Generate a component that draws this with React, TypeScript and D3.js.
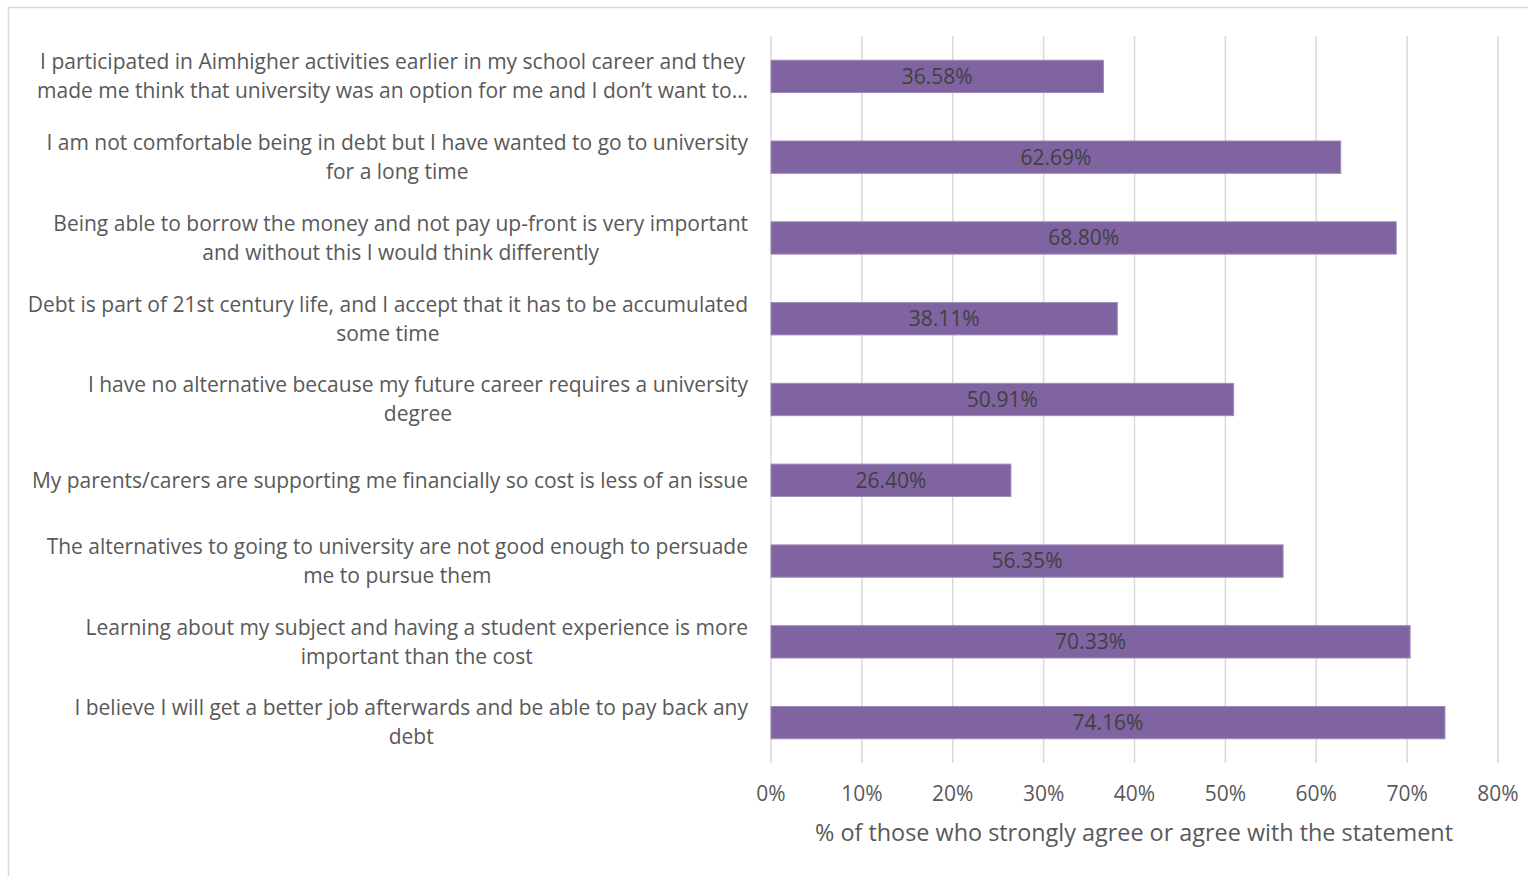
import React from "react";
import * as d3 from "d3";

const categories: string[] = [
  "I participated in Aimhigher activities earlier in my school career and they\nmade me think that university was an option for me and I don\u2019t want to\u2026",
  "I am not comfortable being in debt but I have wanted to go to university\nfor a long time",
  "Being able to borrow the money and not pay up-front is very important\nand without this I would think differently",
  "Debt is part of 21st century life, and I accept that it has to be accumulated\nsome time",
  "I have no alternative because my future career requires a university\ndegree",
  "My parents/carers are supporting me financially so cost is less of an issue",
  "The alternatives to going to university are not good enough to persuade\nme to pursue them",
  "Learning about my subject and having a student experience is more\nimportant than the cost",
  "I believe I will get a better job afterwards and be able to pay back any\ndebt",
];
const values: number[] = [36.58, 62.69, 68.8, 38.11, 50.91, 26.4, 56.35, 70.33, 74.16];
const xTicks: number[] = [0, 10, 20, 30, 40, 50, 60, 70, 80];
const axisTitle = "% of those who strongly agree or agree with the statement";

const W = 1528;
const H = 876;
const plotLeft = 771;
const plotRight = 1498;
const plotTop = 36;
const plotBottom = 763;
const labelRight = 748;
const FONT = "'Open Sans', sans-serif";
const LABEL_SIZE = 21;

let ctx: CanvasRenderingContext2D | null = null;
function measure(s: string, size: number): number {
  if (!ctx) ctx = document.createElement("canvas").getContext("2d");
  if (!ctx) return s.length * size * 0.5;
  ctx.font = `${size}px 'Open Sans', sans-serif`;
  return ctx.measureText(s).width;
}

export default function App() {
  const x = d3.scaleLinear().domain([0, 80]).range([plotLeft, plotRight]);
  const y = d3
    .scaleBand<number>()
    .domain(d3.range(categories.length))
    .range([plotTop, plotBottom])
    .paddingInner(0.6)
    .paddingOuter(0.3);
  const bw = y.bandwidth();
  const lineH = 29;

  return (
    <div style={{ position: "fixed", left: 0, top: 0, width: W, height: H, background: "#fff" }}>
      <svg width={W} height={H} style={{ display: "block" }}>
        <rect x={8.5} y={7.5} width={W + 10} height={H + 10} fill="#fff" stroke="#d9d9d9" strokeWidth={1.5} />
        {xTicks.map((t) => (
          <line key={t} x1={x(t)} x2={x(t)} y1={plotTop} y2={plotBottom} stroke="#d9d9d9" strokeWidth={1.5} />
        ))}
        {values.map((v, i) => {
          const y0 = y(i)!;
          return (
            <g key={i}>
              <rect x={x(0)} y={y0} width={x(v) - x(0)} height={bw} fill="#8064a2" stroke="#9e8abb" strokeWidth={1} />
              <text
                x={(x(0) + x(v)) / 2}
                y={y0 + bw / 2}
                dy="0.35em"
                textAnchor="middle"
                fontFamily={FONT}
                fontSize={21}
                fill="#404040"
              >
                {v.toFixed(2)}%
              </text>
            </g>
          );
        })}
        {categories.map((c, i) => {
          const lines = c.split("\n");
          const cy = y(i)! + bw / 2;
          const start = cy - ((lines.length - 1) * lineH) / 2;
          const maxW = d3.max(lines, (l) => measure(l, LABEL_SIZE)) || 0;
          const cx = labelRight - maxW / 2;
          return (
            <text key={i} textAnchor="middle" fontFamily={FONT} fontSize={LABEL_SIZE} fill="#595959">
              {lines.map((l, j) => (
                <tspan key={j} x={cx} y={start + j * lineH} dy="0.35em">
                  {l}
                </tspan>
              ))}
            </text>
          );
        })}
        {xTicks.map((t) => (
          <text key={t} x={x(t)} y={794} dy="0.35em" textAnchor="middle" fontFamily={FONT} fontSize={21} fill="#595959">
            {t}%
          </text>
        ))}
        <text
          x={1134}
          y={833}
          dy="0.35em"
          textAnchor="middle"
          fontFamily={FONT}
          fontSize={23.4}
          fill="#595959"
        >
          {axisTitle}
        </text>
      </svg>
    </div>
  );
}
